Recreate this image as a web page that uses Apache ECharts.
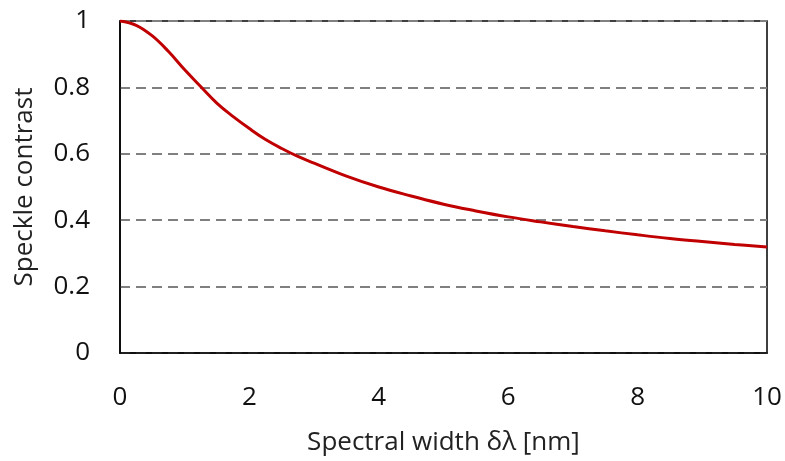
<!DOCTYPE html>
<html>
<head>
<meta charset="utf-8">
<script src="https://cdn.jsdelivr.net/npm/echarts@6/dist/echarts.min.js"></script>
<style>html,body{margin:0;padding:0;background:#fff;}#c{width:785px;height:461px;}</style>
</head>
<body>
<div id="c"></div>
<script>
const xValues = [0, 0.25, 0.5, 0.75, 1.0, 1.25, 1.5, 1.75, 2.0, 2.25, 2.5, 2.75, 3.0, 3.5, 4.0, 4.5, 5.0, 5.5, 6.0, 6.5, 7.0, 7.5, 8.0, 8.5, 9.0, 9.5, 10];
const contrast = [1.0, 0.987, 0.955, 0.908, 0.853, 0.802, 0.752, 0.712, 0.676, 0.643, 0.616, 0.592, 0.572, 0.533, 0.500, 0.473, 0.448, 0.428, 0.410, 0.395, 0.381, 0.368, 0.356, 0.345, 0.336, 0.327, 0.319];
const xTitle = 'Spectral width δλ [nm]';
const yTitle = 'Speckle contrast';

const font = '"Open Sans", sans-serif';
const chart = echarts.init(document.getElementById('c'), null, {renderer: 'canvas'});
chart.setOption({
  animation: false,
  backgroundColor: '#ffffff',
  grid: {left: 120, right: 18, top: 21, bottom: 108, show: true, borderColor: '#000', borderWidth: 1.5, backgroundColor: 'transparent'},
  xAxis: {
    type: 'value', min: 0, max: 10, interval: 2,
    name: xTitle, nameLocation: 'middle', nameGap: 77,
    nameTextStyle: {fontFamily: font, fontSize: 26, color: '#222'},
    axisLine: {show: true, lineStyle: {color: '#000', width: 1.5}},
    axisTick: {show: false},
    splitLine: {show: false},
    axisLabel: {fontFamily: font, fontSize: 26, color: '#111', margin: 32},
  },
  yAxis: {
    type: 'value', min: 0, max: 1, interval: 0.2,
    name: yTitle, nameLocation: 'middle', nameGap: 82,
    nameTextStyle: {fontFamily: font, fontSize: 26, color: '#222'},
    axisLine: {show: true, lineStyle: {color: '#000', width: 1.5}},
    axisTick: {show: false},
    splitLine: {show: true, lineStyle: {color: '#808080', width: 2, type: [10, 6]}},
    axisLabel: {fontFamily: font, fontSize: 26, color: '#111', margin: 30,
      formatter: v => String(Math.round(v * 10) / 10)}
  },
  series: [{
    type: 'line',
    data: xValues.map((x, i) => [x, contrast[i]]),
    showSymbol: false,
    smooth: 0.4,
    lineStyle: {color: '#C00000', width: 3}
  }]
});
</script>
</body>
</html>
